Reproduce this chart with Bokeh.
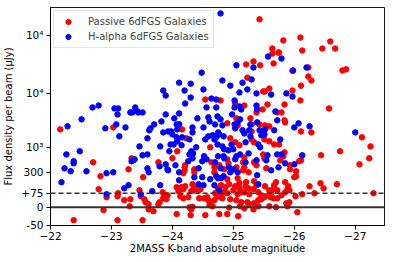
import numpy as np
from bokeh.plotting import figure
from bokeh.models import Range1d, FixedTicker, Span, Legend, LegendItem
from bokeh.embed import file_html
from bokeh.resources import INLINE

# ---------------- data ----------------
passive_mag = [
    -22.16, -23.03, -24.54, -24.11, -24.16, -24.23, -24.62, -24.08, -24.00, -23.33,
    -22.70, -23.77, -24.21, -24.20, -24.64, -24.69, -23.28, -24.36, -22.82, -23.52,
    -22.79, -23.11, -23.10, -23.21, -23.31, -23.30, -23.46, -23.48, -23.54, -23.56,
    -23.61, -23.61, -23.77, -23.79, -23.84, -23.87, -23.90, -23.85, -23.92, -24.07,
    -24.10, -24.15, -24.18, -24.21, -24.18, -24.13, -24.20, -24.18, -24.26, -24.33,
    -24.36, -24.31, -24.34, -24.28, -24.31, -24.33, -24.43, -24.46, -24.44, -24.52,
    -24.57, -24.59, -24.62, -24.61, -24.66, -24.69, -24.70, -24.74, -24.54, -24.36,
    -24.69, -22.38, -22.87, -23.10, -23.51, -23.69, -24.07, -24.30, -22.92, -25.43,
    -26.10, -25.82, -26.59, -25.64, -25.64, -25.74, -25.75, -26.13, -26.46, -26.67,
    -25.21, -25.33, -25.44, -25.66, -25.97, -26.23, -26.79, -26.85, -25.23, -26.23,
    -26.28, -26.11, -25.59, -25.49, -25.52, -25.97, -26.10, -24.79, -25.03, -25.18,
    -25.56, -25.84, -25.48, -25.38, -25.79, -26.57, -24.90, -24.95, -25.05, -25.07,
    -25.03, -25.10, -25.28, -25.30, -25.43, -25.52, -25.59, -25.30, -25.30, -25.34,
    -25.51, -25.59, -25.67, -25.75, -25.72, -25.84, -25.85, -26.11, -26.28, -27.11,
    -27.25, -26.75, -26.44, -25.84, -25.82, -25.77, -25.49, -25.51, -25.34, -25.38,
    -25.54, -25.18, -25.16, -25.18, -25.25, -25.16, -25.05, -24.90, -24.92, -24.85,
    -24.77, -25.93, -25.93, -26.03, -26.08, -26.11, -26.03, -26.00, -27.07, -27.23,
    -26.43, -26.48, -26.70, -27.30, -26.25, -26.33, -26.13, -26.02, -25.90, -25.89,
    -25.92, -25.85, -25.70, -25.67, -25.66, -25.72, -25.52, -25.59, -25.62, -25.52,
    -25.46, -25.34, -25.38, -25.33, -25.41, -25.21, -25.20, -25.25, -25.18, -25.26,
    -25.07, -25.10, -25.03, -25.10, -25.00, -25.13, -25.07, -24.90, -24.93, -24.87,
    -24.80, -24.75, -24.84, -24.90, -24.74, -24.79, -24.77, -24.90, -25.08, -26.05,
    -24.93, -25.11, -25.18, -25.33, -25.41, -25.59, -25.70, -25.89, -25.92, -25.87,
    -24.82, -24.95, -25.05, -25.13, -25.23, -25.26, -25.41, -25.34, -25.46, -25.51,
    -25.61, -25.66, -25.72, -25.79, -25.85,
]
passive_flux = [
    2150, 2340, 7700, 2660, 2150, 1470, 1000, 825, 590, 590,
    485, 485, 420, 381, 485, 381, 346, 346, 232, 217,
    98, 75, 59, 38, 43, 5, 91, 59, 43, 27,
    16, -6, 16, 27, 80, 59, 43, 48, 64, 112,
    86, 112, 98, 119, 48, 59, 330, 282, 54, 136,
    104, 86, 91, 0, -6, 2, 91, 98, 48, 48,
    54, 38, 21, 11, 5, 38, 75, 59, -22, 300,
    300, -36, -8, -36, -36, -11, -19, -22, 54, 190000,
    92000, 82000, 78700, 59500, 48800, 50700, 50700, 55000, 59500, 59500,
    31600, 35600, 30500, 32900, 24500, 28000, 24900, 26000, 18700, 19500,
    16700, 13600, 12100, 10800, 10800, 11200, 7400, 7400, 6490, 5960,
    6220, 6220, 5040, 4430, 4430, 5260, 2780, 1470, 3440, 2550,
    1240, 1090, 3440, 2660, 2660, 2550, 2450, 1970, 1400, 1240,
    1400, 1290, 1130, 1130, 4430, 3160, 2900, 1970, 1890, 1530,
    1040, 825, 680, 785, 650, 535, 710, 590, 485, 420,
    363, 615, 485, 381, 300, 330, 381, 560, 462, 346,
    420, 420, 346, 315, 510, 535, 232, 217, 440, 590,
    146, 104, 136, 75, 119, 75, 70, 59, 119, 98,
    91, 156, 156, 128, 98, 91, 119, 91, 75, 59,
    59, 166, 128, 98, 80, 156, 119, 104, 80, 70,
    203, 146, 119, 104, 91, 80, 70, 190, 136, 112,
    128, 98, 80, 75, 64, 54, -19, -19, -25, -14,
    -1, 5, -3, -6, 5, 5, 0, 5, 27, 21,
    48, 43, 38, 27, 27, 16, 38, 21, 43, 54,
    54, 48, 48, 64, 80,
]

halpha_mag = [
    -24.48, -24.11, -24.30, -23.85, -24.20, -23.89, -24.51, -24.30, -24.21, -24.64,
    -24.72, -22.69, -22.79, -23.05, -23.11, -23.39, -23.10, -23.31, -23.34, -23.43,
    -23.44, -23.51, -23.89, -24.11, -24.56, -24.72, -22.51, -24.41, -24.59, -24.61,
    -24.03, -23.82, -23.70, -23.08, -22.28, -23.23, -22.90, -23.64, -23.62, -24.07,
    -24.11, -24.08, -24.33, -24.51, -24.70, -23.93, -23.98, -24.00, -23.85, -23.13,
    -23.59, -24.07, -24.33, -24.16, -24.28, -24.54, -24.59, -24.66, -24.72, -24.08,
    -23.97, -24.02, -23.80, -23.46, -24.39, -24.69, -22.48, -22.26, -23.51, -23.59,
    -23.95, -24.15, -24.31, -24.34, -24.28, -24.33, -24.52, -24.56, -22.38, -22.38,
    -23.36, -23.38, -23.33, -23.79, -23.89, -23.92, -24.05, -24.26, -24.43, -24.49,
    -24.70, -22.23, -23.59, -22.33, -22.59, -22.18, -22.92, -23.03, -23.61, -23.93,
    -24.11, -24.11, -24.36, -24.49, -24.62, -24.72, -24.43, -24.51, -23.21, -23.28,
    -22.92, -23.48, -23.67, -23.80, -24.69, -24.79, -25.57, -25.79, -25.05, -25.33,
    -25.98, -26.20, -24.82, -24.95, -25.15, -25.30, -25.23, -25.10, -25.38, -25.62,
    -25.87, -25.97, -25.02, -25.02, -25.10, -25.13, -25.38, -25.39, -25.69, -24.98,
    -24.74, -24.79, -24.82, -24.75, -24.77, -24.84, -25.02, -25.07, -25.03, -25.11,
    -25.15, -25.18, -25.20, -25.28, -25.26, -25.28, -25.39, -25.43, -25.46, -25.49,
    -25.51, -25.52, -25.41, -25.44, -25.67, -25.72, -25.77, -26.00, -26.07, -26.25,
    -27.00, -24.74, -24.82, -24.85, -24.92, -24.97, -25.00, -24.75, -24.84, -24.85,
    -25.03, -25.05, -25.11, -25.25, -25.38, -25.56, -25.72, -25.79, -25.54, -25.74,
    -25.85, -26.00, -26.13, -24.93, -24.95, -25.07, -25.00, -24.79, -24.75, -24.80,
    -24.84, -25.39, -25.62, -25.41, -25.20, -24.77,
]
halpha_flux = [
    22800, 15300, 14700, 11200, 11200, 9100, 11700, 8370, 6490, 8030,
    7700, 5480, 5960, 5260, 5260, 5480, 4070, 4430, 4430, 4620,
    4430, 4430, 4070, 4250, 5480, 5480, 3300, 3440, 3590, 3020,
    3440, 3020, 2660, 2660, 2450, 2340, 2250, 2250, 2070, 2660,
    2660, 2150, 2340, 2340, 2660, 1970, 1970, 1740, 1890, 1600,
    1470, 1530, 1890, 1530, 1400, 1400, 1600, 1670, 1530, 1290,
    1130, 1130, 1040, 1040, 1000, 1400, 825, 710, 680, 710,
    825, 1090, 825, 745, 710, 590, 650, 560, 510, 462,
    535, 560, 510, 400, 440, 346, 420, 510, 363, 510,
    485, 363, 363, 315, 315, 156, 282, 300, 300, 330,
    300, 177, 217, 217, 190, 232, 136, 128, 104, 128,
    70, 70, 86, 128, 128, 240000, 43300, 40000, 30500, 28000,
    24900, 28000, 16700, 13600, 15300, 17400, 11700, 10400, 10000, 9500,
    10000, 8730, 7400, 5480, 5720, 5040, 5960, 5040, 4620, 4070,
    3740, 3300, 2550, 1890, 1740, 1600, 2660, 2900, 2250, 3300,
    2070, 1810, 1240, 2660, 2070, 1600, 2900, 2070, 1670, 1970,
    1740, 2150, 1130, 1000, 2070, 3160, 1400, 2340, 2780, 2450,
    1890, 1130, 1040, 910, 865, 1130, 910, 650, 650, 590,
    560, 650, 710, 745, 535, 680, 710, 710, 535, 381,
    462, 440, 680, 381, 300, 300, 346, 363, 203, 203,
    232, 246, 330, 136, 485, 91,
]

x_ticks = [-22, -23, -24, -25, -26, -27]
x_tick_labels = ["\u221222", "\u221223", "\u221224", "\u221225", "\u221226", "\u221227"]
y_tick_values = [-50, 0, 75, 300, 1000, 10000, 100000]
y_tick_labels = ["-50", "0", "+75", "300", "10\u00b3", "10\u2074", "10\u2074"]
passive_label = "Passive 6dFGS Galaxies"
halpha_label = "H-alpha 6dFGS Galaxies"


# ---------------- custom (piecewise) flux scale ----------------
def to_plot_y(v):
    v = np.asarray(v, dtype=float)
    out = np.empty_like(v)
    neg = v <= 0
    mid = (v > 0) & (v <= 75)
    hi = v > 75
    out[neg] = v[neg] * 18.0 / 50.0
    out[mid] = v[mid] * 14.0 / 75.0
    out[hi] = np.interp(np.log10(v[hi]),
                        [np.log10(75), np.log10(300), 3, 4, 5, 6],
                        [14, 35, 60, 114, 172, 230])
    return out


FONT = "DejaVu Sans"

p = figure(frame_width=334, frame_height=218,
           x_range=Range1d(-22, -27.48), y_range=Range1d(-18.3, 200),
           output_backend="svg", toolbar_location=None,
           min_border_left=44, min_border_top=7, min_border_right=6,
           min_border_bottom=0)
p.background_fill_color = "white"
p.border_fill_color = "white"
p.outline_line_color = "black"
p.outline_line_width = 1
p.outline_line_alpha = 0.9
p.grid.visible = False

# axes
p.xaxis.ticker = FixedTicker(ticks=x_ticks)
p.xaxis.major_label_overrides = {t: l for t, l in zip(x_ticks, x_tick_labels)}
ytv = [float(v) for v in to_plot_y(y_tick_values)]
p.yaxis.ticker = FixedTicker(ticks=ytv)
p.yaxis.major_label_overrides = {t: l for t, l in zip(ytv, y_tick_labels)}

for ax in (p.xaxis[0], p.yaxis[0]):
    ax.minor_tick_line_color = None
    ax.major_tick_in = 0
    ax.major_tick_out = 4
    ax.major_tick_line_color = "black"
    ax.axis_line_color = "black"
    ax.major_label_text_font = FONT
    ax.major_label_text_font_size = "10.5px"
    ax.major_label_text_color = "black"
    ax.axis_label_text_font = FONT
    ax.axis_label_text_font_size = "10px"
    ax.axis_label_text_font_style = "normal"
    ax.axis_label_text_color = "black"

p.xaxis.axis_label = "2MASS K-band absolute magnitude"
p.yaxis.axis_label = "Flux density per beam (\u03bcJy)"
p.xaxis.major_label_standoff = 2
p.xaxis.axis_label_standoff = 0
p.yaxis.major_label_standoff = 3
p.yaxis.axis_label_standoff = 4

# reference lines
p.add_layout(Span(location=0, dimension="width", line_color="#333333", line_width=2))
p.add_layout(Span(location=float(to_plot_y([75])[0]), dimension="width",
                  line_color="#333333", line_width=1.6, line_dash="5 3"))

# points
r_pass = p.scatter(passive_mag, to_plot_y(passive_flux), size=5.5,
                   fill_color="#ff0000", line_color="#ff0000")
r_ha = p.scatter(halpha_mag, to_plot_y(halpha_flux), size=5.5,
                 fill_color="#0000ff", line_color="#0000ff")

legend = Legend(items=[LegendItem(label=passive_label, renderers=[r_pass]),
                       LegendItem(label=halpha_label, renderers=[r_ha])],
                location="top_left")
legend.label_text_font = FONT
legend.label_text_font_size = "10px"
legend.label_height = 13
legend.glyph_height = 13
legend.glyph_width = 20
legend.spacing = 2
legend.padding = 4
legend.margin = 3
legend.label_standoff = 10
legend.border_line_color = "#cccccc"
legend.border_line_width = 1
legend.background_fill_alpha = 0.8
p.add_layout(legend)

open("out.html", "w").write(file_html(p, INLINE))
